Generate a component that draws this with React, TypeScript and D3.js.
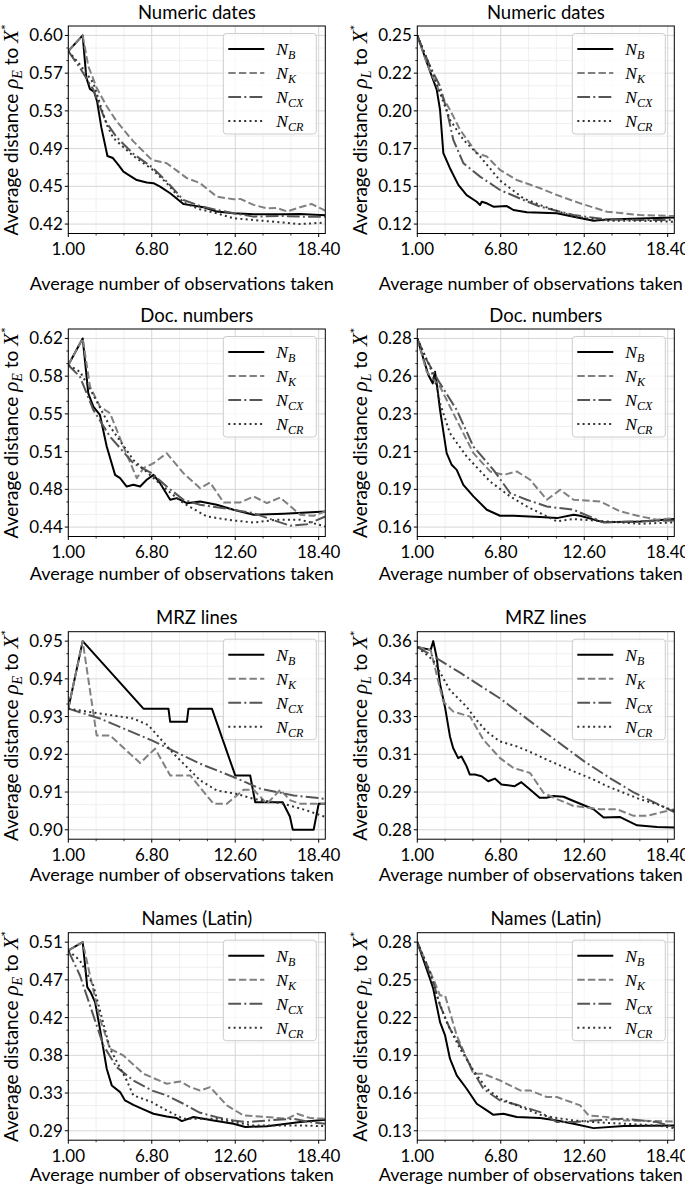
import React from "react";
import * as d3 from "d3";

type Pt = [number, number];

// ---------- shared axis data ----------
const seriesKeys = ["B", "K", "CX", "CR"];
const xTickValues = [1, 6.8, 12.6, 18.4];
const xTickLabels = ["1.00", "6.80", "12.60", "18.40"];
const xDomain: [number, number] = [1, 18.86];

const panelTitles = [
  "Numeric dates", "Numeric dates",
  "Doc. numbers", "Doc. numbers",
  "MRZ lines", "MRZ lines",
  "Names (Latin)", "Names (Latin)",
];
const panelMetric = ["E", "L", "E", "L", "E", "L", "E", "L"];

const yTickLabels = [
  ["0.42", "0.45", "0.49", "0.53", "0.57", "0.60"],
  ["0.12", "0.15", "0.17", "0.20", "0.22", "0.25"],
  ["0.44", "0.48", "0.51", "0.55", "0.58", "0.62"],
  ["0.16", "0.19", "0.21", "0.23", "0.26", "0.28"],
  ["0.90", "0.91", "0.92", "0.93", "0.94", "0.95"],
  ["0.28", "0.29", "0.31", "0.33", "0.34", "0.36"],
  ["0.29", "0.33", "0.38", "0.42", "0.47", "0.51"],
  ["0.13", "0.16", "0.19", "0.22", "0.25", "0.28"],
];
// first / last tick values (ticks are evenly spaced between them)
const yTickRange: [number, number][] = [
  [0.42, 0.60], [0.12, 0.25], [0.44, 0.62], [0.162, 0.282],
  [0.90, 0.95], [0.278, 0.358], [0.29, 0.51], [0.13, 0.28],
];

// ---------- Numeric dates, rho_E ----------
const ndE_B: Pt[] = [[1.0,0.585],[2.0,0.600],[2.25,0.560],[2.5,0.549],[2.8,0.546],[3.0,0.537],[3.3,0.512],[3.72,0.485],[4.1,0.483],[4.48,0.4765],[4.83,0.470],[5.18,0.467],[5.76,0.462],[6.45,0.4596],[6.92,0.459],[7.38,0.4558],[8.08,0.4494],[9.0,0.4392],[9.7,0.4376],[10.4,0.436],[11.32,0.4319],[12.48,0.4303],[13.88,0.4293],[15.96,0.4293],[17.1,0.4297],[18.86,0.4284]];
const ndE_K: Pt[] = [[1.0,0.585],[2.0,0.600],[2.39,0.5707],[2.97,0.550],[3.67,0.5324],[4.36,0.518],[5.52,0.4989],[6.8,0.4813],[7.38,0.4794],[7.84,0.478],[8.54,0.471],[9.24,0.4638],[10.16,0.459],[11.32,0.4462],[12.48,0.4437],[12.95,0.444],[13.88,0.4383],[14.8,0.435],[15.5,0.4354],[16.2,0.432],[17.1,0.436],[17.9,0.4392],[18.86,0.4328]];
const ndE_CX: Pt[] = [[1.0,0.585],[1.81,0.569],[2.74,0.5483],[3.6,0.518],[4.35,0.503],[5.52,0.487],[6.8,0.4745],[7.84,0.4606],[9.0,0.443],[10.16,0.4373],[11.32,0.4335],[12.48,0.4303],[13.88,0.4271],[15.96,0.4277],[17.1,0.4271],[18.86,0.4271]];
const ndE_CR: Pt[] = [[1.0,0.585],[1.81,0.5722],[2.74,0.5547],[3.67,0.5148],[4.13,0.502],[5.52,0.485],[6.8,0.4725],[7.84,0.459],[9.0,0.4405],[10.16,0.4341],[11.32,0.4303],[12.48,0.4255],[13.88,0.4239],[15.96,0.4214],[17.1,0.420],[18.86,0.4214]];

// ---------- Numeric dates, rho_L ----------
const ndL_B: Pt[] = [[1.0,0.25],[1.88,0.2253],[2.35,0.2127],[2.58,0.1988],[2.81,0.1689],[3.27,0.1585],[3.85,0.147],[4.43,0.140],[5.13,0.1354],[5.36,0.1331],[5.48,0.1354],[5.83,0.1343],[6.29,0.132],[7.22,0.1324],[7.68,0.1297],[8.61,0.1281],[10.7,0.1274],[11.86,0.1251],[13.25,0.1223],[14.18,0.1232],[16.5,0.1239],[18.86,0.1246]];
const ndL_K: Pt[] = [[1.0,0.25],[1.65,0.2311],[2.58,0.2104],[3.27,0.1988],[3.97,0.185],[5.13,0.1689],[5.83,0.1666],[6.75,0.1573],[7.91,0.1504],[9.54,0.1447],[10.7,0.140],[12.32,0.1343],[14.18,0.1285],[16.5,0.1262],[18.86,0.1255]];
const ndL_CX: Pt[] = [[1.0,0.25],[1.88,0.2288],[2.58,0.215],[3.04,0.1988],[3.5,0.1781],[4.2,0.162],[5.36,0.1527],[6.75,0.1435],[8.38,0.1366],[9.54,0.132],[11.86,0.1262],[14.18,0.1232],[16.5,0.1228],[18.86,0.1228]];
const ndL_CR: Pt[] = [[1.0,0.25],[1.88,0.2288],[2.58,0.2104],[3.27,0.1919],[4.2,0.1781],[5.36,0.1666],[6.75,0.15],[8.38,0.1377],[9.54,0.1331],[11.86,0.1251],[14.18,0.1223],[16.5,0.1223],[18.86,0.1216]];

// ---------- Doc. numbers, rho_E ----------
const dnE_B: Pt[] = [[1.0,0.5946],[2.0,0.62],[2.39,0.5676],[2.74,0.5549],[3.2,0.547],[3.67,0.5168],[4.25,0.4898],[4.6,0.4867],[5.06,0.4787],[5.52,0.4803],[5.99,0.4787],[6.45,0.4851],[6.92,0.4898],[7.38,0.4819],[8.08,0.466],[8.54,0.4676],[9.24,0.4628],[10.16,0.4644],[11.32,0.4613],[12.48,0.4565],[13.88,0.4517],[15.96,0.4527],[18.86,0.4549]];
const dnE_K: Pt[] = [[1.0,0.5946],[2.0,0.62],[2.51,0.574],[3.2,0.5549],[3.9,0.5486],[4.83,0.5168],[5.76,0.4867],[6.22,0.4962],[6.92,0.5009],[7.84,0.5105],[9.0,0.4914],[10.16,0.4771],[10.86,0.4825],[11.79,0.4635],[12.95,0.4635],[13.88,0.4692],[14.8,0.4628],[15.73,0.4682],[17.12,0.4517],[18.05,0.4508],[18.86,0.4549]];
const dnE_CX: Pt[] = [[1.0,0.5946],[1.81,0.5835],[2.74,0.5517],[3.9,0.5263],[5.52,0.5009],[6.8,0.4914],[7.84,0.4787],[9.0,0.466],[10.16,0.4613],[12.48,0.4565],[13.88,0.4533],[15.5,0.4454],[16.43,0.4413],[17.6,0.4428],[18.86,0.4501]];
const dnE_CR: Pt[] = [[1.0,0.5946],[1.81,0.5883],[2.74,0.566],[3.9,0.5359],[5.52,0.5041],[6.8,0.4882],[7.84,0.4756],[9.0,0.4628],[10.62,0.4501],[12.48,0.4463],[13.88,0.4444],[15.5,0.447],[17.12,0.447],[18.86,0.4406]];

// ---------- Doc. numbers, rho_L ----------
const dnL_B: Pt[] = [[1.0,0.282],[1.77,0.2587],[2.07,0.2534],[2.23,0.2608],[2.35,0.2534],[2.58,0.2365],[3.04,0.209],[3.39,0.2016],[3.74,0.1984],[4.2,0.1889],[4.9,0.1815],[5.83,0.173],[6.75,0.1692],[7.68,0.1692],[9.54,0.1684],[10.7,0.1677],[11.86,0.1699],[12.32,0.1692],[13.95,0.165],[16.5,0.1656],[18.86,0.1671]];
const dnL_K: Pt[] = [[1.0,0.282],[1.65,0.2608],[2.58,0.2513],[3.5,0.2344],[4.9,0.209],[6.06,0.1974],[6.99,0.1952],[7.91,0.1974],[8.84,0.1921],[10.0,0.1794],[10.93,0.1857],[11.86,0.1794],[13.71,0.1783],[15.1,0.172],[16.5,0.1688],[17.66,0.1667],[18.86,0.1677]];
const dnL_CX: Pt[] = [[1.0,0.282],[1.65,0.2682],[2.58,0.2534],[3.74,0.2365],[4.9,0.2132],[6.29,0.1984],[7.45,0.1836],[8.61,0.1794],[10.0,0.1751],[11.86,0.173],[13.95,0.165],[16.5,0.1656],[18.86,0.1662]];
const dnL_CR: Pt[] = [[1.0,0.282],[1.88,0.264],[2.35,0.2513],[2.58,0.2407],[3.27,0.2217],[4.43,0.2069],[6.06,0.191],[7.45,0.1815],[8.61,0.1751],[9.54,0.1709],[10.7,0.1656],[11.86,0.1671],[14.18,0.1656],[16.5,0.1641],[18.86,0.165]];

// ---------- MRZ lines, rho_E ----------
const mrzE_B: Pt[] = [[1.0,0.9321],[2.0,0.95],[6.22,0.9321],[7.96,0.9321],[8.08,0.9286],[9.24,0.9286],[9.35,0.9321],[10.98,0.9321],[12.6,0.9144],[13.64,0.9144],[13.99,0.9073],[15.9,0.9073],[16.4,0.9035],[16.6,0.900],[18.05,0.900],[18.4,0.9069],[18.86,0.9069]];
const mrzE_K: Pt[] = [[1.0,0.9321],[2.0,0.95],[2.97,0.925],[3.9,0.925],[5.99,0.9177],[7.03,0.9215],[8.08,0.9144],[9.47,0.9144],[11.09,0.9069],[12.02,0.9069],[13.18,0.9106],[13.88,0.9106],[14.8,0.9069],[15.73,0.9106],[16.43,0.9078],[17.12,0.9069],[18.86,0.9069]];
const mrzE_CX: Pt[] = [[1.0,0.9321],[3.2,0.9295],[6.8,0.9237],[10.16,0.9175],[12.6,0.9138],[14.34,0.9109],[16.66,0.9091],[18.86,0.9082]];
const mrzE_CR: Pt[] = [[1.0,0.9321],[3.2,0.9308],[5.52,0.9295],[6.57,0.9277],[8.31,0.9202],[10.16,0.9131],[11.32,0.9104],[12.6,0.9096],[13.88,0.9082],[15.96,0.9069],[17.6,0.9051],[18.86,0.9034]];

// ---------- MRZ lines, rho_L ----------
const mrzL_B: Pt[] = [[1.0,0.3555],[1.93,0.3543],[2.11,0.358],[2.34,0.3513],[2.57,0.340],[2.92,0.3302],[3.27,0.3176],[3.49,0.3127],[3.84,0.3084],[4.07,0.3091],[4.42,0.305],[4.65,0.3014],[5.0,0.3014],[5.47,0.3007],[5.93,0.2986],[6.39,0.2997],[6.85,0.2972],[7.77,0.2965],[8.23,0.2982],[8.69,0.2958],[9.5,0.2916],[9.97,0.2916],[10.47,0.2923],[11.16,0.292],[11.86,0.2902],[13.25,0.2867],[13.95,0.2832],[15.1,0.2834],[16.27,0.2799],[17.66,0.2792],[18.86,0.279]];
const mrzL_K: Pt[] = [[1.0,0.3555],[1.93,0.3541],[2.81,0.3323],[3.5,0.3281],[4.67,0.326],[5.59,0.3162],[6.75,0.3084],[7.68,0.3042],[8.84,0.3021],[9.77,0.2937],[10.47,0.2916],[11.86,0.2881],[13.71,0.2867],[14.87,0.2867],[16.03,0.2839],[16.96,0.2839],[17.89,0.2853],[18.86,0.2867]];
const mrzL_CX: Pt[] = [[1.0,0.3555],[2.0,0.352],[4.0,0.3445],[6.8,0.3335],[9.5,0.321],[12.6,0.307],[14.5,0.2995],[16.0,0.294],[17.5,0.2895],[18.86,0.2855]];
const mrzL_CR: Pt[] = [[1.0,0.3555],[2.11,0.3499],[3.27,0.3372],[4.42,0.3302],[5.11,0.3246],[5.81,0.3197],[6.73,0.3155],[7.89,0.3134],[9.04,0.3105],[10.0,0.3077],[11.86,0.3028],[13.25,0.2993],[14.18,0.2965],[15.34,0.2937],[16.5,0.2909],[17.66,0.2888],[18.86,0.286]];

// ---------- Names (Latin), rho_E ----------
const nlE_B: Pt[] = [[1.0,0.5003],[2.0,0.51],[2.32,0.4575],[2.55,0.4517],[2.86,0.44],[3.2,0.4089],[3.67,0.3623],[4.02,0.3429],[4.6,0.3351],[4.94,0.3254],[5.52,0.3203],[6.22,0.3149],[6.92,0.3098],[7.84,0.3067],[8.54,0.3048],[8.89,0.3013],[9.7,0.306],[11.09,0.302],[12.48,0.2982],[13.3,0.2943],[14.8,0.2954],[17.12,0.3001],[18.86,0.3028]];
const nlE_K: Pt[] = [[1.0,0.5003],[2.0,0.51],[2.51,0.4711],[3.2,0.4206],[3.9,0.3856],[4.83,0.3778],[6.22,0.3565],[7.84,0.3448],[8.77,0.3475],[9.47,0.3409],[10.16,0.337],[10.86,0.3409],[12.02,0.3195],[13.18,0.3079],[14.8,0.306],[16.2,0.304],[16.9,0.3098],[17.82,0.3048],[18.86,0.304]];
const nlE_CX: Pt[] = [[1.0,0.5003],[1.81,0.4711],[2.74,0.4245],[3.44,0.3895],[4.36,0.3642],[5.52,0.3487],[6.8,0.337],[7.84,0.3312],[9.0,0.3215],[10.16,0.311],[11.32,0.3059],[12.48,0.302],[13.41,0.3001],[14.8,0.302],[16.66,0.304],[17.82,0.3001],[18.86,0.2982]];
const nlE_CR: Pt[] = [[1.0,0.5003],[1.81,0.4886],[2.74,0.4595],[3.9,0.3856],[5.06,0.3487],[5.52,0.3312],[6.8,0.3234],[7.84,0.3137],[9.0,0.304],[10.16,0.304],[11.32,0.304],[12.48,0.3001],[13.88,0.2962],[15.96,0.2962],[17.12,0.2962],[18.86,0.2954]];

// ---------- Names (Latin), rho_L ----------
const nlL_B: Pt[] = [[1.0,0.28],[1.88,0.2509],[2.11,0.2429],[2.58,0.2164],[2.93,0.2058],[3.27,0.1873],[3.74,0.174],[4.43,0.1634],[5.13,0.1515],[5.83,0.1462],[6.29,0.1427],[6.99,0.1435],[7.91,0.1409],[9.54,0.1401],[10.7,0.1382],[11.86,0.1356],[13.25,0.1321],[15.34,0.1337],[18.86,0.1342]];
const nlL_K: Pt[] = [[1.0,0.28],[2.11,0.2509],[2.58,0.2376],[2.93,0.2376],[3.74,0.2058],[4.9,0.1753],[5.59,0.1753],[6.75,0.17],[8.15,0.1621],[8.84,0.1621],[10.0,0.1568],[10.7,0.1568],[12.32,0.1502],[12.9,0.1422],[14.18,0.1409],[15.34,0.1382],[18.86,0.1374]];
const nlL_CX: Pt[] = [[1.0,0.28],[2.11,0.2482],[2.58,0.2297],[3.27,0.2111],[3.97,0.1979],[4.9,0.1767],[5.59,0.1634],[6.75,0.1541],[7.91,0.1507],[9.54,0.1448],[10.7,0.1369],[11.86,0.1369],[13.25,0.1382],[15.34,0.1396],[17.66,0.1369],[18.86,0.1329]];
const nlL_CR: Pt[] = [[1.0,0.28],[1.88,0.2562],[2.35,0.2376],[3.04,0.2164],[3.97,0.1952],[4.9,0.178],[5.83,0.1634],[6.75,0.1555],[7.91,0.1502],[9.54,0.1427],[10.7,0.1401],[11.86,0.1382],[13.25,0.1369],[15.34,0.1356],[17.66,0.1342],[18.86,0.1321]];

const panelSeries: Pt[][][] = [
  [ndE_B, ndE_K, ndE_CX, ndE_CR],
  [ndL_B, ndL_K, ndL_CX, ndL_CR],
  [dnE_B, dnE_K, dnE_CX, dnE_CR],
  [dnL_B, dnL_K, dnL_CX, dnL_CR],
  [mrzE_B, mrzE_K, mrzE_CX, mrzE_CR],
  [mrzL_B, mrzL_K, mrzL_CX, mrzL_CR],
  [nlE_B, nlE_K, nlE_CX, nlE_CR],
  [nlL_B, nlL_K, nlL_CX, nlL_CR],
];

// ---------- layout & style ----------
const W = 685, H = 1189;
const COL_LEFT = [68.3, 417.3];
const AX_W = 257;
const ROW_TOP = [26, 329, 631.7, 932.7];
const AX_H = 207.5;
const XLABEL_OFF = [56, 43, 42, 41];
const XLABEL_SHIFT = -15;
const SANS = "Lato, 'DejaVu Sans', sans-serif";
const SERIF = "'Liberation Serif', 'DejaVu Serif', serif";
const TICK_FS = 17;
const TITLE_FS = 18.5;
const XLABEL_FS = 18;
const YLABEL_FS = 19;

const styles = [
  { stroke: "#000000", dash: "none" },
  { stroke: "#808080", dash: "7.4 3.2" },
  { stroke: "#555555", dash: "12.8 3.2 2 3.2" },
  { stroke: "#333333", dash: "2 3.3" },
];

function Panel({ idx }: { idx: number }) {
  const col = idx % 2, row = Math.floor(idx / 2);
  const left = COL_LEFT[col], top = ROW_TOP[row];
  const right = left + AX_W, bottom = top + AX_H;
  const x = d3.scaleLinear().domain(xDomain).range([left, right]);
  const [lo, hi] = yTickRange[idx];
  const pad = (hi - lo) * 0.05;
  const y = d3.scaleLinear().domain([lo - pad, hi + pad]).range([bottom, top]);
  const yStep = (hi - lo) / 5;
  const yTicks = d3.range(6).map((i) => lo + i * yStep);
  const yMinor: number[] = [];
  for (let i = 0; i < 5; i++) for (let k = 1; k <= 2; k++) yMinor.push(lo + (i + k / 3) * yStep);
  const xMinor: number[] = [];
  for (let i = 0; i < xTickValues.length - 1; i++) {
    const s = xTickValues[i + 1] - xTickValues[i];
    for (let k = 1; k <= 2; k++) xMinor.push(xTickValues[i] + (k / 3) * s);
  }
  const line = d3.line<Pt>().x((d) => x(d[0])).y((d) => y(d[1]));
  const clipId = `clip${idx}`;
  const metric = panelMetric[idx];
  const cy = (top + bottom) / 2;
  const ylx = left - 50;

  const lgX = right - 102, lgY = top + 7.5, lgW = 93, lgH = 100.5;

  return (
    <g>
      <defs>
        <clipPath id={clipId}>
          <rect x={left} y={top} width={AX_W} height={AX_H} />
        </clipPath>
      </defs>
      {/* minor grid */}
      {xMinor.map((v, i) => (
        <line key={"xm" + i} x1={x(v)} x2={x(v)} y1={top} y2={bottom} stroke="#ececec" strokeWidth={0.8} />
      ))}
      {yMinor.map((v, i) => (
        <line key={"ym" + i} x1={left} x2={right} y1={y(v)} y2={y(v)} stroke="#ececec" strokeWidth={0.8} />
      ))}
      {/* major grid */}
      {xTickValues.map((v, i) => (
        <line key={"xg" + i} x1={x(v)} x2={x(v)} y1={top} y2={bottom} stroke="#d6d6d6" strokeWidth={1} />
      ))}
      {yTicks.map((v, i) => (
        <line key={"yg" + i} x1={left} x2={right} y1={y(v)} y2={y(v)} stroke="#d6d6d6" strokeWidth={1} />
      ))}
      {/* series */}
      <g clipPath={`url(#${clipId})`}>
        {panelSeries[idx].map((s, i) => (
          <path key={i} d={line(s) || ""} fill="none" stroke={styles[i].stroke} strokeWidth={2}
            strokeDasharray={styles[i].dash} strokeLinejoin="round" />
        ))}
      </g>
      {/* spines */}
      <rect x={left} y={top} width={AX_W} height={AX_H} fill="none" stroke="#000" strokeWidth={1} />
      {/* ticks */}
      {xTickValues.map((v, i) => (
        <g key={"xt" + i}>
          <line x1={x(v)} x2={x(v)} y1={bottom} y2={bottom + 3.5} stroke="#000" strokeWidth={1} />
          <text x={x(v)} y={bottom + 21.5} textAnchor="middle" fontFamily={SANS} fontSize={TICK_FS} fill="#000">
            {xTickLabels[i]}
          </text>
        </g>
      ))}
      {xMinor.map((v, i) => (
        <line key={"xmt" + i} x1={x(v)} x2={x(v)} y1={bottom} y2={bottom + 2} stroke="#000" strokeWidth={0.8} />
      ))}
      {yTicks.map((v, i) => (
        <g key={"yt" + i}>
          <line x1={left - 3.5} x2={left} y1={y(v)} y2={y(v)} stroke="#000" strokeWidth={1} />
          <text x={left - 5.5} y={y(v) + 6} textAnchor="end" fontFamily={SANS} fontSize={TICK_FS} fill="#000">
            {yTickLabels[idx][i]}
          </text>
        </g>
      ))}
      {yMinor.map((v, i) => (
        <line key={"ymt" + i} x1={left - 2} x2={left} y1={y(v)} y2={y(v)} stroke="#000" strokeWidth={0.8} />
      ))}
      {/* title */}
      <text x={(left + right) / 2} y={top - 7.5} textAnchor="middle" fontFamily={SANS} fontSize={TITLE_FS} fill="#000">
        {panelTitles[idx]}
      </text>
      {/* x label */}
      <text x={(left + right) / 2 + XLABEL_SHIFT} y={bottom + XLABEL_OFF[row]} textAnchor="middle" fontFamily={SANS} fontSize={XLABEL_FS} fill="#000">
        Average number of observations taken
      </text>
      {/* y label */}
      <text transform={`translate(${ylx},${cy}) rotate(-90)`} textAnchor="middle" fontFamily={SANS} fontSize={YLABEL_FS} fill="#000">
        <tspan>Average distance </tspan>
        <tspan fontFamily={SERIF} fontStyle="italic" fontSize={21}>ρ</tspan>
        <tspan fontFamily={SERIF} fontStyle="italic" fontSize={14} dy={4}>{metric}</tspan>
        <tspan dy={-4}> to </tspan>
        <tspan fontFamily={SERIF} fontStyle="italic" fontSize={21}>X</tspan>
        <tspan fontSize={14} dy={-7}>*</tspan>
      </text>
      {/* legend */}
      <rect x={lgX} y={lgY} width={lgW} height={lgH} rx={3} ry={3} fill="#ffffff" fillOpacity={0.8} stroke="#cccccc" strokeWidth={1} />
      {seriesKeys.map((k, i) => {
        const ry = top + 23 + i * 24;
        return (
          <g key={"lg" + i}>
            <line x1={lgX + 5} x2={lgX + 41} y1={ry} y2={ry} stroke={styles[i].stroke} strokeWidth={2} strokeDasharray={styles[i].dash} />
            <text x={lgX + 53} y={ry + 6} fontFamily={SERIF} fontStyle="italic" fontSize={17.5} fill="#000">
              N
              <tspan fontSize={12} dy={4}>{k}</tspan>
            </text>
          </g>
        );
      })}
    </g>
  );
}

export default function App() {
  return (
    <svg width={W} height={H} viewBox={`0 0 ${W} ${H}`} style={{ position: "absolute", left: 0, top: 0, background: "#fff" }}>
      <rect x={0} y={0} width={W} height={H} fill="#fff" />
      {d3.range(8).map((i) => (
        <Panel key={i} idx={i} />
      ))}
    </svg>
  );
}
